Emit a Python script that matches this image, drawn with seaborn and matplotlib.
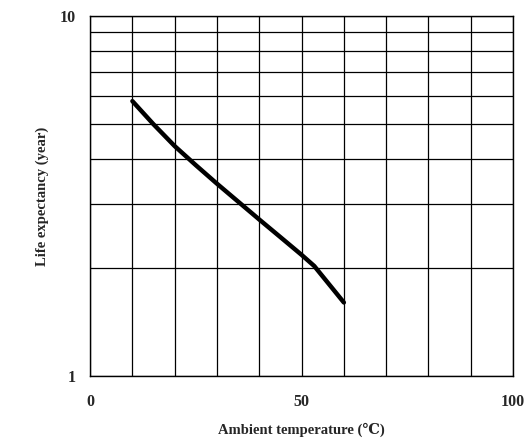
import numpy as np
import pandas as pd
import matplotlib
matplotlib.use("Agg")
import matplotlib.pyplot as plt
import seaborn as sns
from matplotlib.ticker import FixedLocator, NullFormatter

# life expectancy curve
temperature = [10, 15, 20, 25, 30, 35, 40, 45, 50, 53, 60]
life_years = [5.8, 5.0, 4.35, 3.85, 3.42, 3.05, 2.72, 2.43, 2.17, 2.02, 1.6]

x_ticks = [0, 50, 100]
y_ticks = [1, 10]

sns.set_style("white")
plt.rcParams['font.family'] = ['Liberation Serif', 'DejaVu Serif']
plt.rcParams['font.weight'] = 'bold'

df = pd.DataFrame({"temp": temperature, "life": life_years})

fig = plt.figure(figsize=(5.3, 4.38), dpi=100)
ax = fig.add_axes([0.170, 0.1416, 0.798, 0.822])

sns.lineplot(data=df, x="temp", y="life", color="black", linewidth=3.2, ax=ax)

ax.set_yscale("log")
ax.set_xlim(0, 100)
ax.set_ylim(1, 10)

ax.xaxis.set_major_locator(FixedLocator(x_ticks))
ax.xaxis.set_minor_locator(FixedLocator(np.arange(0, 101, 10)))
ax.yaxis.set_major_locator(FixedLocator(y_ticks))
ax.yaxis.set_minor_locator(FixedLocator(np.arange(2, 10)))
ax.yaxis.set_minor_formatter(NullFormatter())
ax.set_yticklabels(["1", "10"])
ax.set_xticklabels([str(t) for t in x_ticks])

ax.grid(True, which="both", color="black", linewidth=0.9)
ax.tick_params(which="both", length=0, labelsize=11.5, pad=13)
ax.tick_params(axis="y", pad=10)

for s in ax.spines.values():
    s.set_color("black")
    s.set_linewidth(1.0)

ax.set_xlabel("Ambient temperature (\u2103)", fontsize=10.5, fontweight="bold", labelpad=9)
ax.set_ylabel("Life expectancy (year)", fontsize=10.5, fontweight="bold", labelpad=8)

fig.savefig("out.png", dpi=100)
